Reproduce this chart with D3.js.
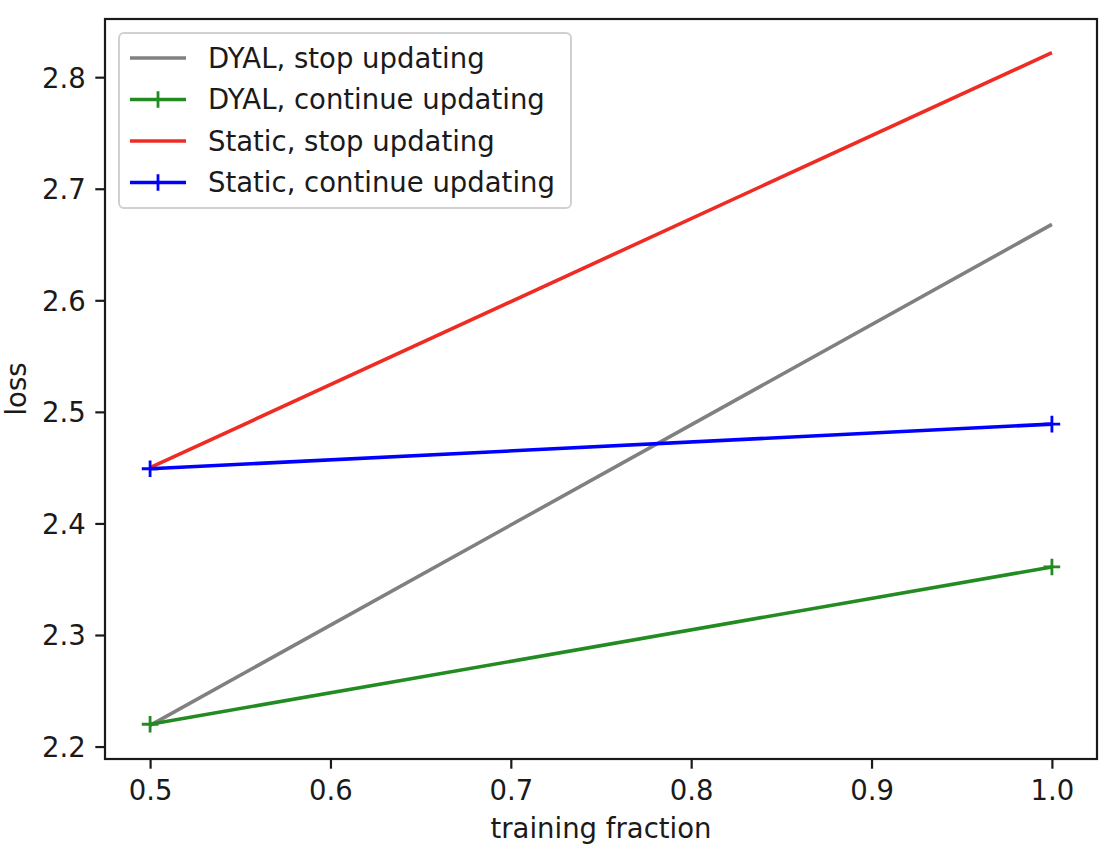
<!DOCTYPE html>
<html>
<head>
<meta charset="utf-8">
<script src="https://cdn.jsdelivr.net/npm/d3@7"></script>
<style>
  body { margin: 0; background: #fff; }
  svg { display: block; font-family: "DejaVu Sans", sans-serif; }
</style>
</head>
<body>
<svg id="chart" width="1116" height="858"></svg>
<script>
// data
var fractions = [0.5, 1.0];
var dyalStop = [2.219, 2.668];
var dyalCont = [2.220, 2.361];
var staticStop = [2.450, 2.822];
var staticCont = [2.449, 2.489];
var xTicks = [0.5, 0.6, 0.7, 0.8, 0.9, 1.0];
var yTicks = [2.2, 2.3, 2.4, 2.5, 2.6, 2.7, 2.8];

var series = [
  { name: "DYAL, stop updating", values: dyalStop, color: "#808080", marker: false },
  { name: "DYAL, continue updating", values: dyalCont, color: "#228b22", marker: true },
  { name: "Static, stop updating", values: staticStop, color: "#ee2c24", marker: false },
  { name: "Static, continue updating", values: staticCont, color: "#0000ff", marker: true }
];

// plot box in pixels
var box = { left: 105, right: 1097, top: 19, bottom: 759 };
var fs = 27.5;
var ink = "#1a1a1a";

var svg = d3.select("#chart");

// matplotlib style 5% margins
var xExt = d3.extent(fractions);
var xPad = (xExt[1] - xExt[0]) * 0.05;
var x = d3.scaleLinear()
  .domain([xExt[0] - xPad, xExt[1] + xPad])
  .range([box.left, box.right]);

var allY = d3.merge(series.map(function(s) { return s.values; }));
var yExt = d3.extent(allY);
var yPad = (yExt[1] - yExt[0]) * 0.05;
var y = d3.scaleLinear()
  .domain([yExt[0] - yPad, yExt[1] + yPad])
  .range([box.bottom, box.top]);

// axes
var xAxis = svg.append("g")
  .attr("transform", "translate(0," + box.bottom + ")")
  .call(d3.axisBottom(x).tickValues(xTicks).tickFormat(d3.format(".1f")).tickSize(9.7).tickPadding(9));
var yAxis = svg.append("g")
  .attr("transform", "translate(" + box.left + ",0)")
  .call(d3.axisLeft(y).tickValues(yTicks).tickFormat(d3.format(".1f")).tickSize(9.7).tickPadding(9.5));

[xAxis, yAxis].forEach(function(a) {
  a.select(".domain").remove();
  a.selectAll(".tick line").attr("stroke", ink).attr("stroke-width", 2.2);
  a.selectAll(".tick text")
    .attr("fill", ink)
    .style("font-size", fs + "px")
    .style("font-family", "DejaVu Sans");
});
yAxis.selectAll(".tick text").attr("dy", "0.36em");
xAxis.selectAll(".tick text").attr("dy", "0.8em");

// lines
var line = d3.line()
  .x(function(d, i) { return x(fractions[i]); })
  .y(function(d) { return y(d); });

var plot = svg.append("g");
series.forEach(function(s) {
  plot.append("path")
    .attr("d", line(s.values))
    .attr("fill", "none")
    .attr("stroke", s.color)
    .attr("stroke-width", 3.6);
  if (s.marker) {
    plot.selectAll(null)
      .data(s.values)
      .enter()
      .append("path")
      .attr("transform", function(d, i) { return "translate(" + x(fractions[i]) + "," + y(d) + ")"; })
      .attr("d", "M-8.3,0H8.3M0,-8.3V8.3")
      .attr("stroke", s.color)
      .attr("stroke-width", 2.8);
  }
});

// frame
svg.append("rect")
  .attr("x", box.left)
  .attr("y", box.top)
  .attr("width", box.right - box.left)
  .attr("height", box.bottom - box.top)
  .attr("fill", "none")
  .attr("stroke", ink)
  .attr("stroke-width", 2.2);

// axis labels
svg.append("text")
  .attr("x", (box.left + box.right) / 2)
  .attr("y", 838)
  .attr("text-anchor", "middle")
  .attr("fill", ink)
  .style("font-size", fs + "px")
  .text("training fraction");

svg.append("text")
  .attr("transform", "translate(26," + (box.top + box.bottom) / 2 + ") rotate(-90)")
  .attr("text-anchor", "middle")
  .attr("fill", ink)
  .style("font-size", fs + "px")
  .text("loss");

// legend
var legend = svg.append("g");
legend.append("rect")
  .attr("x", 119)
  .attr("y", 33)
  .attr("width", 452)
  .attr("height", 175)
  .attr("rx", 5)
  .attr("fill", "#fff")
  .attr("fill-opacity", 0.8)
  .attr("stroke", "#d0d0d0")
  .attr("stroke-width", 2);

var rows = legend.selectAll(".row")
  .data(series)
  .enter()
  .append("g")
  .attr("class", "row")
  .attr("transform", function(d, i) { return "translate(0," + (58 + i * 41.5) + ")"; });

rows.append("line")
  .attr("x1", 130).attr("x2", 186)
  .attr("stroke", function(d) { return d.color; })
  .attr("stroke-width", 3.6);
rows.filter(function(d) { return d.marker; })
  .append("path")
  .attr("d", "M149.7,0H166.3M158,-8.3V8.3")
  .attr("stroke", function(d) { return d.color; })
  .attr("stroke-width", 2.8);
rows.append("text")
  .attr("x", 208)
  .attr("dy", "0.36em")
  .style("font-size", fs + "px")
  .attr("fill", ink)
  .text(function(d) { return d.name; });
</script>
</body>
</html>
